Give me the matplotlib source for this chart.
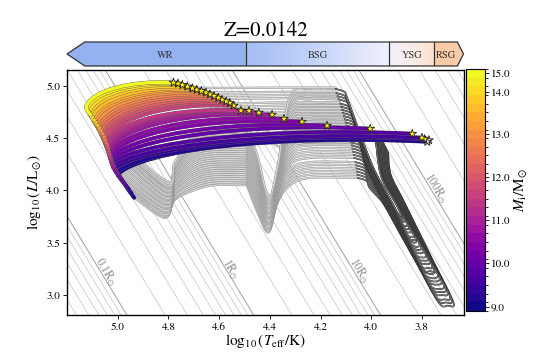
import numpy as np
import matplotlib
matplotlib.use("Agg")
import matplotlib.pyplot as plt
from matplotlib.path import Path
from matplotlib.patches import PathPatch, Polygon
import matplotlib.patheffects as pe
from matplotlib.colors import BoundaryNorm, ListedColormap, LinearSegmentedColormap

plt.rcParams['font.family'] = 'STIXGeneral'
plt.rcParams['mathtext.fontset'] = 'stix'

# ---------------- data ----------------
title = "Z=0.0142"
masses = [9.0, 9.2, 9.4, 9.6, 9.8, 10.0, 10.2, 10.4, 10.6, 10.8, 11.0, 11.2, 11.4, 11.6,
          11.8, 12.0, 12.2, 12.4, 12.6, 12.8, 13.0, 13.2, 13.4, 13.6, 13.8, 14.0, 14.5, 15.0]
# star markers (start of the coloured part)
star_logT = [3.772, 3.779, 3.790, 3.800, 3.838, 4.004, 4.174, 4.273, 4.344, 4.391, 4.443, 4.482,
             4.514, 4.542, 4.558, 4.572, 4.588, 4.603, 4.620, 4.636, 4.652, 4.670, 4.688, 4.705,
             4.725, 4.745, 4.762, 4.780]
star_logL = [4.480, 4.465, 4.490, 4.503, 4.541, 4.589, 4.618, 4.656, 4.684, 4.723, 4.742, 4.760,
             4.762, 4.810, 4.835, 4.850, 4.866, 4.885, 4.902, 4.918, 4.935, 4.950, 4.962, 4.975,
             4.992, 5.008, 5.020, 5.030]
# hottest point of each coloured track
turn_logT = [4.995, 5.000, 5.010, 5.018, 5.022, 5.025, 5.028, 5.030, 5.033, 5.036, 5.038, 5.040,
             5.046, 5.050, 5.054, 5.060, 5.064, 5.068, 5.073, 5.078, 5.083, 5.090, 5.095, 5.100,
             5.107, 5.113, 5.119, 5.125]
turn_logL = [4.16, 4.18, 4.21, 4.23, 4.26, 4.28, 4.30, 4.33, 4.35, 4.38, 4.40, 4.42, 4.45, 4.47,
             4.49, 4.52, 4.54, 4.56, 4.59, 4.61, 4.63, 4.66, 4.68, 4.70, 4.73, 4.75, 4.78, 4.80]
# end point of each coloured track
end_logT = [4.935, 4.945, 4.955, 4.965, 4.975, 4.985, 4.995, 5.002, 5.010, 5.018, 5.022, 5.026,
            5.029, 5.032, 5.035, 5.037, 5.040, 5.044, 5.048, 5.052, 5.058, 5.066, 5.072, 5.078,
            5.086, 5.092, 5.100, 5.106]
end_logL = [3.93, 3.97, 4.01, 4.04, 4.07, 4.10, 4.13, 4.16, 4.19, 4.22, 4.25, 4.28, 4.31, 4.34,
            4.37, 4.40, 4.43, 4.45, 4.48, 4.51, 4.54, 4.57, 4.60, 4.62, 4.65, 4.67, 4.70, 4.72]
# grey (full) tracks
grey_vA = [3.74, 3.75, 3.76, 3.77, 3.79, 3.80, 3.81, 3.83, 3.84, 3.85, 3.87, 3.88, 3.89, 3.91,
           3.92, 3.93, 3.95, 3.96, 3.97, 3.99, 4.00, 4.01, 4.03, 4.04, 4.05, 4.06, 4.08, 4.10]
grey_LA = [4.05, 4.07, 4.09, 4.11, 4.13, 4.15, 4.17, 4.19, 4.21, 4.23, 4.25, 4.27, 4.29, 4.31,
           4.33, 4.35, 4.37, 4.39, 4.41, 4.43, 4.45, 4.47, 4.49, 4.51, 4.53, 4.55, 4.57, 4.59]
grey_vB = [3.60, 3.61, 3.62, 3.63, 3.64, 3.65, 3.67, 3.68, 3.69, 3.70, 3.71, 3.73, 3.74, 3.75,
           3.76, 3.78, 3.79, 3.80, 3.81, 3.83, 3.84, 3.85, 3.87, 3.88, 3.89, 3.91, 3.92, 3.94]
grey_LB = [4.12, 4.15, 4.18, 4.21, 4.24, 4.27, 4.31, 4.34, 4.37, 4.40, 4.43, 4.46, 4.49, 4.52,
           4.55, 4.59, 4.62, 4.65, 4.68, 4.71, 4.74, 4.77, 4.80, 4.83, 4.87, 4.90, 4.93, 4.97]
# radius (R_sun) at the bend into the cool branch
diag_R_corner = [36, 37, 38, 39, 40, 41, 42, 43, 44, 45, 46, 47, 48, 49,
                 50, 51, 52, 53, 54, 55, 56, 57, 58, 59, 60, 61, 62, 64]
# depth of the loop down the cool branch and position across the branch (0 = hot edge)
diag_depth = [2.90, 2.93, 2.96, 3.00, 3.03, 3.06, 3.10, 3.13, 3.16, 3.20, 3.23, 3.26, 3.30, 3.33,
              3.36, 3.40, 3.43, 3.46, 3.50, 3.53, 3.56, 3.60, 3.63, 3.66, 3.70, 3.72, 3.74, 3.76]
diag_down = [0.00, 0.02, 0.03, 0.05, 0.07, 0.08, 0.10, 0.12, 0.13, 0.15, 0.17, 0.18, 0.20, 0.22,
             0.23, 0.25, 0.27, 0.28, 0.30, 0.32, 0.33, 0.35, 0.37, 0.38, 0.40, 0.41, 0.42, 0.43]
diag_up = [1.00, 0.98, 0.97, 0.95, 0.93, 0.92, 0.90, 0.88, 0.87, 0.85, 0.83, 0.82, 0.80, 0.78,
           0.77, 0.75, 0.73, 0.72, 0.70, 0.68, 0.67, 0.65, 0.63, 0.62, 0.60, 0.59, 0.58, 0.57]
diag_top_L = [4.36, 4.37, 4.38, 4.39, 4.40, 4.41, 4.42, 4.43, 4.44, 4.45, 4.46, 4.47, 4.48, 4.49,
              4.50, 4.50, 4.51, 4.51, 4.52, 4.52, 4.53, 4.53, 4.54, 4.54, 4.55, 4.55, 4.56, 4.56]
# edges of the cool branch (logT, logL)
branch_hot = [(3.755, 3.02), (4.004, 4.10)]
branch_cool = [(3.700, 3.05), (3.913, 4.10)]
# constant radius lines
radius_decades = [0.01, 0.1, 1.0, 10.0, 100.0, 1000.0]
radius_steps = [1, 2, 3, 4, 5, 6, 7, 8, 9]
radius_labels = ["0.1", "1", "10", "100"]
radius_label_logL = [3.22, 3.25, 3.23, 4.02]
# phase bar
phase_names = ["WR", "BSG", "YSG", "RSG"]
phase_edges = [5.13, 4.494, 3.929, 3.751, 3.660]
logT_sun = 3.7613

# ---------------- figure ----------------
fig = plt.figure(figsize=(5.4, 3.54), dpi=100)
ax = fig.add_axes([67/540, 1-315/354, (464-67)/540, (315-70)/354])
xlim = (5.20, 3.634)
ylim = (2.81, 5.15)
ax.set_xlim(*xlim)
ax.set_ylim(*ylim)

def T_of(R, L):
    return logT_sun + (L - 2*np.log10(R))/4.0

def edge_T(edge, L):
    (t0, l0), (t1, l1) = edge
    return t0 + (L - l0)*(t1 - t0)/(l1 - l0)

def branch_T(frac, L):
    th = edge_T(branch_hot, L)
    tc = edge_T(branch_cool, L)
    return th - frac*(th - tc)

# radius lines
Tgrid = np.array([3.4, 5.6])
for dec in radius_decades:
    for s in radius_steps:
        R = dec * s
        L = 2*np.log10(R) + 4*(Tgrid - logT_sun)
        main = (s == 1)
        ax.plot(Tgrid, L, color='#a0a0a0' if main else '#c4c4c4',
                lw=0.7 if main else 0.5, zorder=1)

def screen_angle(T0, L0, T1, L1):
    p0 = ax.transData.transform((T0, L0))
    p1 = ax.transData.transform((T1, L1))
    return np.degrees(np.arctan2(p1[1]-p0[1], p1[0]-p0[0]))

for lab, Ly in zip(radius_labels, radius_label_logL):
    Tl = T_of(float(lab), Ly)
    ang = screen_angle(Tl, Ly, Tl-0.1, Ly-0.4)
    ax.text(Tl - 0.018, Ly, lab + r"R$_{\odot}$", rotation=ang, rotation_mode='anchor',
            ha='center', va='center', fontsize=8.5, color='#8a8a8a', zorder=1)

def smooth_path(pts):
    pts = np.asarray(pts, float)
    n = len(pts)
    verts = [pts[0]]
    codes = [Path.MOVETO]
    for i in range(n-1):
        p0 = pts[i-1] if i > 0 else pts[i]
        p1 = pts[i]
        p2 = pts[i+1]
        p3 = pts[i+2] if i+2 < n else pts[i+1]
        c1 = p1 + (p2 - p0)/6.0
        c2 = p2 - (p3 - p1)/6.0
        verts += [c1, c2, p2]
        codes += [Path.CURVE4]*3
    return Path(verts, codes)

light_fx = [pe.Stroke(linewidth=1.6, foreground='#8e8e8e'), pe.Normal()]
dark_fx = [pe.Stroke(linewidth=1.2, foreground='#202020'), pe.Normal()]
N = len(masses)

def add_track(pts, fill, fx, z, lw=1.0):
    ax.add_patch(PathPatch(smooth_path(pts), fill=False, edgecolor=fill, lw=lw,
                           zorder=z, path_effects=fx, capstyle='round', joinstyle='round'))

for j in range(N):
    LB = grey_LB[j]
    ptsA = [(end_logT[j], end_logL[j]), (4.815, grey_vA[j]), (4.775, grey_vA[j]+0.17),
            (4.70, grey_LA[j]-0.05), (4.62, grey_LA[j]), (4.49, grey_LA[j])]
    Tc = T_of(diag_R_corner[j], LB)
    ptsB = [(4.49, grey_LA[j]), (4.45, grey_LA[j]-0.25), (4.405, grey_vB[j]),
            (4.37, grey_vB[j]+0.28), (4.32, LB-0.07), (4.24, LB), (Tc+0.04, LB)]
    add_track(ptsA, '#d6d6d6', light_fx, 2)
    add_track(ptsB, '#d6d6d6', light_fx, 2)
    if star_logT[j] > 4.4:
        ptsD = [(star_logT[j], star_logL[j]), (star_logT[j]-0.06, LB+0.012),
                (4.30, LB+0.012), (Tc+0.04, LB+0.012)]
        add_track(ptsD, '#d6d6d6', light_fx, 2)

for j in range(N):
    LB = grey_LB[j]
    Tc = T_of(diag_R_corner[j], LB)
    d = diag_depth[j]
    a = diag_down[j]
    b = diag_up[j]
    pts = [(Tc+0.04, LB), (Tc+0.005, LB-0.03), (Tc-0.008, LB-0.1)]
    L1 = min(LB-0.25, 4.25)
    levels = [L1] + [v for v in (3.9, 3.6, 3.3) if d + 0.08 < v < L1] + [d+0.03]
    pts += [(branch_T(a, v), v) for v in levels]
    pts += [(branch_T(0.5*(a+b), d), d)]
    up_levels = [d+0.03] + [v for v in (3.3, 3.6, 3.9, 4.15) if v > d + 0.08]
    pts += [(branch_T(b, v), v) for v in up_levels]
    pts += [(branch_T(b, 4.15)+0.01 + 0.03*(1-b), diag_top_L[j])]
    add_track(pts, '#7c7c7c', dark_fx, 2.5, lw=0.75)

# colour map for masses
edges = [masses[0] - 0.1] + [(a+b)/2 for a, b in zip(masses[:-1], masses[1:])] + [masses[-1] + 0.25]
cmap_base = plt.get_cmap('plasma')
cols = [cmap_base(i/(N-1)) for i in range(N)]
cmap = ListedColormap(cols)
norm = BoundaryNorm(edges, N)

col_fx = [pe.Stroke(linewidth=2.9, foreground='#5a5a5a'), pe.Normal()]
for j in range(N):
    S = np.array([star_logT[j], star_logL[j]])
    T = np.array([turn_logT[j], turn_logL[j]])
    E = np.array([end_logT[j], end_logL[j]])
    dX = T[0] - S[0]
    C1 = (S[0] + 0.5*dX, S[1] + 0.06*dX)
    C2 = (T[0] - 0.072*dX, T[1] + 0.67*(S[1]-T[1]))
    path = Path([S, C1, C2, T, (T[0]-0.004, T[1]-0.05), E],
                [Path.MOVETO, Path.CURVE4, Path.CURVE4, Path.CURVE4, Path.CURVE3, Path.CURVE3])
    ax.add_patch(PathPatch(path, fill=False, edgecolor=cmap(norm(masses[j])), lw=2.45,
                           zorder=3, path_effects=col_fx, capstyle='round'))

face = ['#f0f0f0', '#f0f0f0'] + ['#ffee00']*(N-2)
ax.scatter(star_logT, star_logL, marker='*', s=42, c=face, edgecolors='#222222',
           linewidths=0.6, zorder=5)

ax.set_xticks([5.0, 4.8, 4.6, 4.4, 4.2, 4.0, 3.8])
ax.set_yticks([3.0, 3.5, 4.0, 4.5, 5.0])
ax.xaxis.set_major_formatter(matplotlib.ticker.FormatStrFormatter('%.1f'))
ax.yaxis.set_major_formatter(matplotlib.ticker.FormatStrFormatter('%.1f'))
ax.tick_params(labelsize=8, length=3, width=0.6, pad=2)
ax.set_xlabel(r"$\log_{10}(T_{\rm eff}/{\rm K})$", fontsize=11, labelpad=0)
ax.set_ylabel(r"$\log_{10}(L/{\rm L}_{\odot})$", fontsize=11, labelpad=2)
for sp in ax.spines.values():
    sp.set_linewidth(1.0)

# colorbar
cax = fig.add_axes([466/540, 1-311/354, 19/540, (311-69)/354])
sm = matplotlib.cm.ScalarMappable(norm=norm, cmap=cmap)
cb = fig.colorbar(sm, cax=cax, ticks=[9.0, 10.0, 11.0, 12.0, 13.0, 14.0, 15.0], format='%.1f')
cb.ax.tick_params(labelsize=8, length=3, width=0.6, pad=1)
cb.set_label(r"$M_{\rm i}/{\rm M}_{\odot}$", fontsize=11, labelpad=2)
cb.outline.set_linewidth(0.8)

# phase bar
bax = fig.add_axes([67/540, 1-66/354, (464-67)/540, 24/354])
bax.set_xlim(*xlim)
bax.set_ylim(0, 1)
bax.axis('off')
wr_col = '#94b1f2'
bsg_cmap = LinearSegmentedColormap.from_list('bsg', ['#a2bdf6', '#c6d5f9', '#f1f1fd'])
ysg_cmap = LinearSegmentedColormap.from_list('ysg', ['#f3eefa', '#f8ece9', '#fde0cb'])
rsg_col = '#f9cba7'
tip_l = xlim[0]
tip_r = xlim[1] + 0.002
bax.add_patch(Polygon([(tip_l, 0.5), (phase_edges[0], 1), (phase_edges[1], 1),
                       (phase_edges[1], 0), (phase_edges[0], 0)], closed=True,
                      facecolor=wr_col, edgecolor='none'))
grad = np.linspace(0, 1, 256)[None, :]
bax.imshow(grad, cmap=bsg_cmap, extent=[phase_edges[1], phase_edges[2], 0, 1], aspect='auto')
bax.imshow(grad, cmap=ysg_cmap, extent=[phase_edges[2], phase_edges[3], 0, 1], aspect='auto')
bax.add_patch(Polygon([(phase_edges[3], 0), (phase_edges[3], 1), (phase_edges[4], 1),
                       (tip_r, 0.5), (phase_edges[4], 0)], closed=True,
                      facecolor=rsg_col, edgecolor='none'))
bax.set_xlim(*xlim)
bax.set_ylim(0, 1)
outline = [(tip_l, 0.5), (phase_edges[0], 1), (phase_edges[4], 1), (tip_r, 0.5),
           (phase_edges[4], 0), (phase_edges[0], 0)]
bax.add_patch(Polygon(outline, closed=True, fill=False, edgecolor='#333333', lw=0.9, clip_on=False))
for e in phase_edges[1:4]:
    bax.plot([e, e], [0, 1], color='#333333', lw=0.9)
label_x = [(phase_edges[0]+phase_edges[1])/2, (phase_edges[1]+phase_edges[2])/2,
           (phase_edges[2]+phase_edges[3])/2, (phase_edges[3]+phase_edges[4])/2]
for name, xx in zip(phase_names, label_x):
    bax.text(xx, 0.47, name, ha='center', va='center', fontsize=7.5, color='#333333')

fig.text(266/540, 1-31/354, title, ha='center', va='center', fontsize=15)

fig.savefig('out.png', dpi=100)
